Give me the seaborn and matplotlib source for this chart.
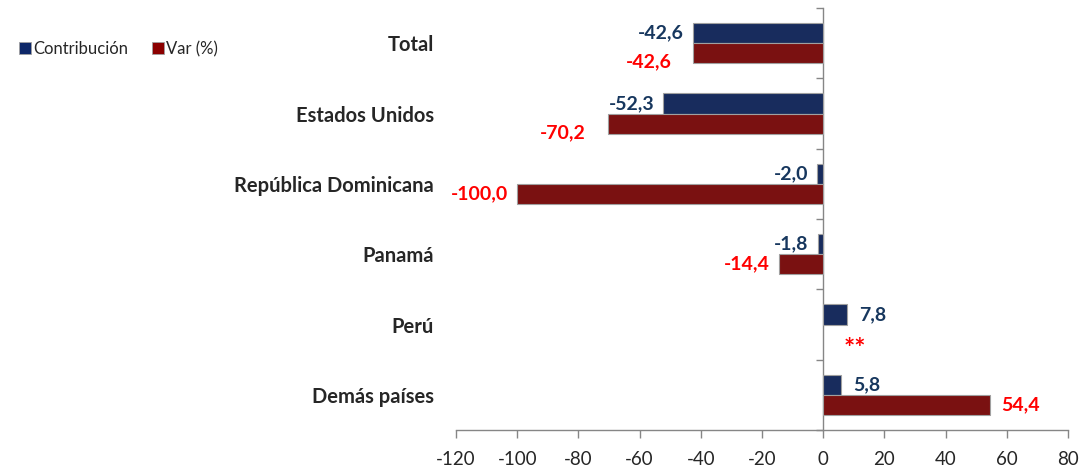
import matplotlib
matplotlib.use('Agg')
import matplotlib.pyplot as plt
from matplotlib.patches import Patch
import numpy as np
import pandas as pd
import seaborn as sns

# Data
paises = ['Total', 'Estados Unidos', 'República Dominicana', 'Panamá', 'Perú', 'Demás países']
contribucion = [-42.6, -52.3, -2.0, -1.8, 7.8, 5.8]
variacion = [-42.6, -70.2, -100.0, -14.4, np.nan, 54.4]   # Perú: ** (no calculable)
series = ['Contribución', 'Var (%)']
x_ticks = [-120, -100, -80, -60, -40, -20, 0, 20, 40, 60, 80]

colors = {'Contribución': '#0D2768', 'Var (%)': '#8B0000'}
label_colors = {'Contribución': '#17375E', 'Var (%)': '#FF0000'}
axis_gray = '#868686'

df = pd.DataFrame({
    'pais': paises * 2,
    'serie': [series[0]] * len(paises) + [series[1]] * len(paises),
    'valor': contribucion + variacion,
})

sns.set_theme(style='white')
plt.rcParams['font.family'] = ['Lato', 'DejaVu Sans']

fig = plt.figure(figsize=(10.84, 4.70), dpi=100)
ax = fig.add_axes([0.4207, 0.085, 0.5645, 0.898])

width = 0.57
sns.barplot(data=df, y='pais', x='valor', hue='serie', hue_order=series,
            order=paises, palette=colors, width=width, gap=0, orient='h',
            edgecolor='#A0A0A0', linewidth=0.8, legend=False, ax=ax)

ax.set_xlim(x_ticks[0], x_ticks[-1])
ax.set_ylim(len(paises) - 0.5, -0.5)
ax.set_xticks(x_ticks)
ax.set_xticklabels([str(t) for t in x_ticks], fontsize=13.5)
ax.set_yticks(range(len(paises)))
ax.set_yticklabels(paises, fontsize=14.5, fontweight='bold')
ax.tick_params(axis='y', length=0, pad=16)
ax.tick_params(axis='x', length=6, width=1, color=axis_gray, direction='out', pad=9, bottom=True)
ax.set_xlabel('')
ax.set_ylabel('')
for s in ['top', 'right', 'left']:
    ax.spines[s].set_visible(False)
ax.spines['bottom'].set_color(axis_gray)
ax.spines['bottom'].set_linewidth(1)

# vertical axis at x = 0 with tick marks between categories
sec = ax.secondary_yaxis((0 - x_ticks[0]) / (x_ticks[-1] - x_ticks[0]))
sec.set_yticks(np.arange(-0.5, len(paises), 1.0))
sec.set_yticklabels([])
sec.tick_params(length=5, width=1, color=axis_gray, direction='out', left=True, right=False)
for sp in sec.spines.values():
    sp.set_color(axis_gray)
    sp.set_linewidth(1)

# data labels
off = width / 4
nudge = {('Var (%)', 'Total'): (-12, -9), ('Var (%)', 'Estados Unidos'): (-14, -9)}
for j, (serie, vals) in enumerate(zip(series, [contribucion, variacion])):
    for i, (p, v) in enumerate(zip(paises, vals)):
        y = i + (off if j else -off)
        dx, dy = nudge.get((serie, p), (0, 0))
        if np.isnan(v):
            ax.annotate('**', xy=(0, y), xytext=(20, -14), textcoords='offset pixels',
                        ha='left', va='center', color=label_colors[serie],
                        fontsize=19, fontweight='bold')
            continue
        txt = f'{v:.1f}'.replace('.', ',')
        if v < 0:
            ax.annotate(txt, xy=(v, y), xytext=(-9 + dx, dy), textcoords='offset pixels',
                        ha='right', va='center', color=label_colors[serie],
                        fontsize=14, fontweight='bold')
        else:
            ax.annotate(txt, xy=(v, y), xytext=(12 + dx, dy), textcoords='offset pixels',
                        ha='left', va='center', color=label_colors[serie],
                        fontsize=14, fontweight='bold')

# legend
handles = [Patch(facecolor=colors[s], edgecolor='#A0A0A0', linewidth=0.6) for s in series]
fig.legend(handles, series, loc='center left', bbox_to_anchor=(0.004, 0.896), ncol=2,
           frameon=False, fontsize=12, handlelength=0.7, handleheight=0.7,
           handletextpad=0.15, columnspacing=1.4)

fig.savefig('out.png', dpi=100)
